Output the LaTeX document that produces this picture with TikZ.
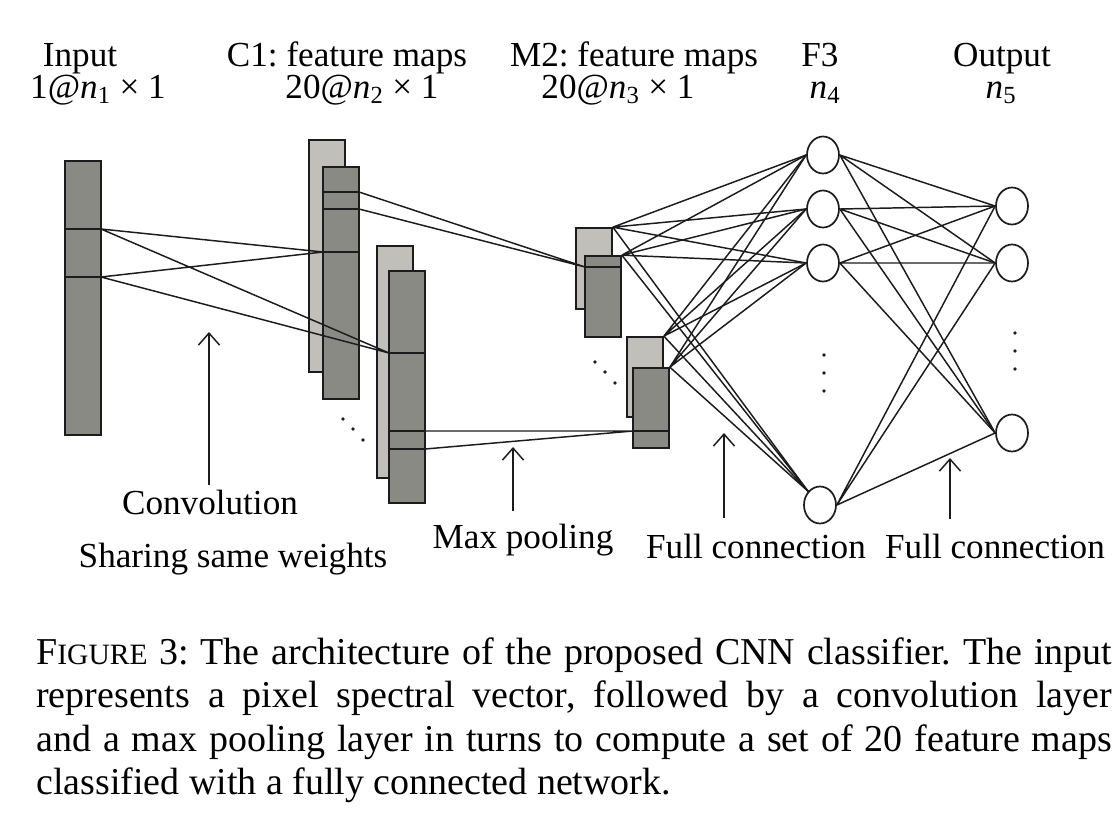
\documentclass[tikz,border=0pt]{standalone}
\usepackage{fontspec}
\setmainfont{Liberation Serif}
\usetikzlibrary{shapes.geometric,arrows.meta}
\definecolor{kartedunkel}{RGB}{137,138,132}
\definecolor{kartehell}{RGB}{192,191,186}
\definecolor{rand}{RGB}{28,28,28}
\frenchspacing

\begin{document}
\begin{tikzpicture}[x=0.025cm,y=-0.025cm,
		font=\fontsize{25}{30}\selectfont,
		dunkel/.style={rectangle,draw=rand,fill=kartedunkel,line width=1.2pt,inner sep=0pt,minimum width=0.9cm},
		hell/.style={dunkel,fill=kartehell},
		neuron/.style={ellipse,draw=rand,fill=white,line width=1.2pt,inner sep=0pt,minimum width=0.8cm,minimum height=0.925cm},
		kante/.style={draw=rand,line width=1.05pt},
		pfeil/.style={kante,-{Straight Barb[length=8.5pt,width=15pt]}}]
		\useasboundingbox (0,0) rectangle (1120,831);

		% Beschriftung oben
		\node (tin) at (80,66) [anchor=base] {Input};
		\node (sin) at (98,98) [anchor=base] {1@\textit{n}\textsubscript{1} × 1};
		\node (tc1) at (347,66) [anchor=base] {C1: feature maps};
		\node (sc1) at (362,98) [anchor=base] {20@\textit{n}\textsubscript{2} × 1};
		\node (tm2) at (634,66) [anchor=base] {M2: feature maps};
		\node (sm2) at (618,98) [anchor=base] {20@\textit{n}\textsubscript{3} × 1};
		\node (tf3) at (820,66) [anchor=base] {F3};
		\node (sf3) at (825,98) [anchor=base] {\textit{n}\textsubscript{4}};
		\node (tout) at (1002,66) [anchor=base] {Output};
		\node (sout) at (1001,98) [anchor=base] {\textit{n}\textsubscript{5}};

		% Eingabe
		\node (in) at (83,298) [dunkel,minimum height=6.85cm] {};
		\coordinate (in1) at (101,229);
		\coordinate (in2) at (101,277);
		\draw[kante] (in.west |- in1) -- (in1);
		\draw[kante] (in.west |- in2) -- (in2);

		% C1
		\node (c1h1) at (327,256) [hell,minimum height=5.8cm] {};
		\node (c1d1) at (341,283) [dunkel,minimum height=5.8cm] {};
		\node (c1h2) at (395,362) [hell,minimum height=5.8cm] {};
		\node (c1d2) at (407,387) [dunkel,minimum height=5.8cm] {};
		\coordinate (c1a) at (359,192);
		\coordinate (c1b) at (359,209);
		\coordinate (c1c) at (323,252);
		\coordinate (c1d) at (389,353);
		\coordinate (c1e) at (425,431);
		\coordinate (c1f) at (425,449);
		\draw[kante] (c1d1.west |- c1a) -- (c1a);
		\draw[kante] (c1d1.west |- c1b) -- (c1b);
		\draw[kante] (c1c) -- (c1d1.east |- c1c);
		\draw[kante] (c1d) -- (c1d2.east |- c1d);
		\draw[kante] (c1d2.west |- c1e) -- (c1e);
		\draw[kante] (c1d2.west |- c1f) -- (c1f);
		\fill[rand] (343,419) circle[radius=1.4pt] (353,429) circle[radius=1.4pt] (363,440) circle[radius=1.4pt];

		% M2
		\node (m2h1) at (594,268.5) [hell,minimum height=2.025cm] {};
		\node (m2d1) at (603,296.5) [dunkel,minimum height=2.025cm] {};
		\node (m2h2) at (645,377) [hell,minimum height=2cm] {};
		\node (m2d2) at (651,408) [dunkel,minimum height=2cm] {};
		\coordinate (m2a) at (585,267);
		\coordinate (m2b) at (633,431);
		\draw[kante] (m2a) -- (m2d1.east |- m2a);
		\draw[kante] (m2b) -- (m2d2.east |- m2b);
		\fill[rand] (595,362) circle[radius=1.4pt] (605,372) circle[radius=1.4pt] (615,383) circle[radius=1.4pt];

		% F3 und Ausgabe
		\node (f3a) at (823,155) [neuron] {};
		\node (f3b) at (823,209) [neuron] {};
		\node (f3c) at (823,263) [neuron] {};
		\node (f3d) at (820,505) [neuron] {};
		\fill[rand] (824,355) circle[radius=1.4pt] (824,373) circle[radius=1.4pt] (824,391) circle[radius=1.4pt];
		\node (outa) at (1012,206) [neuron] {};
		\node (outb) at (1012,263) [neuron] {};
		\node (outc) at (1012,433) [neuron] {};
		\fill[rand] (1015,333) circle[radius=1.4pt] (1015,351) circle[radius=1.4pt] (1015,369) circle[radius=1.4pt];

		% Verbindungen
		\draw[kante] (in1) -- (c1c) (in2) -- (c1c) (in1) -- (c1d) (in2) -- (c1d);
		\draw[kante] (c1a) -- (m2a) (c1b) -- (m2a) (c1e) -- (m2b) (c1f) -- (m2b);
		\draw[kante] (m2h1.north east) -- (f3a.west) (m2h1.north east) -- (f3b.west) (m2h1.north east) -- (f3c.west) (m2h1.north east) -- (f3d.north west);
		\draw[kante] (m2d1.north east) -- (f3a.west) (m2d1.north east) -- (f3b.west) (m2d1.north east) -- (f3c.west) (m2d1.north east) -- (f3d.north west);
		\draw[kante] (m2h2.north east) -- (f3a.west) (m2h2.north east) -- (f3b.west) (m2h2.north east) -- (f3c.west) (m2h2.north east) -- (f3d.north west);
		\draw[kante] (m2d2.north east) -- (f3a.west) (m2d2.north east) -- (f3b.west) (m2d2.north east) -- (f3c.west) (m2d2.north east) -- (f3d.north west);
		\draw[kante] (f3a.east) -- (outa.west) (f3a.east) -- (outb.west) (f3a.east) -- (outc.west);
		\draw[kante] (f3b.east) -- (outa.west) (f3b.east) -- (outb.west) (f3b.east) -- (outc.west);
		\draw[kante] (f3c.east) -- (outa.west) (f3c.east) -- (outb.west) (f3c.east) -- (outc.west);
		\draw[kante] (f3d.east) -- (outa.west) (f3d.east) -- (outb.west) (f3d.east) -- (outc.west);

		% Beschriftung unten
		\node (lconv) at (210,514) [anchor=base] {Convolution};
		\node (lshare) at (233,567) [anchor=base] {Sharing same weights};
		\node (lmax) at (523,548) [anchor=base] {Max pooling};
		\node (lfc1) at (756,558) [anchor=base] {Full connection};
		\node (lfc2) at (995,558) [anchor=base] {Full connection};
		\coordinate (pa1) at (209,485);
		\coordinate (pb1) at (209,332);
		\coordinate (pa2) at (513,511);
		\coordinate (pb2) at (513,447);
		\coordinate (pa3) at (724,518);
		\coordinate (pb3) at (724,433);
		\coordinate (pa4) at (950,519);
		\coordinate (pb4) at (950,458);
		\draw[pfeil] (pa1) -- (pb1);
		\draw[pfeil] (pa2) -- (pb2);
		\draw[pfeil] (pa3) -- (pb3);
		\draw[pfeil] (pa4) -- (pb4);

		% Bildunterschrift
		\node (caption) at (36,637) [anchor=north west,inner sep=0pt,text width=765pt,align=justify,font=\fontsize{27}{31}\selectfont] {F{\fontsize{21}{21}\selectfont IGURE} 3: The architecture of the proposed CNN classifier. The input\linebreak represents a pixel spectral vector, followed by a convolution layer\linebreak and a max pooling layer in turns to compute a set of 20 feature maps\linebreak classified with a fully connected network.};
	\end{tikzpicture}
\end{document}
